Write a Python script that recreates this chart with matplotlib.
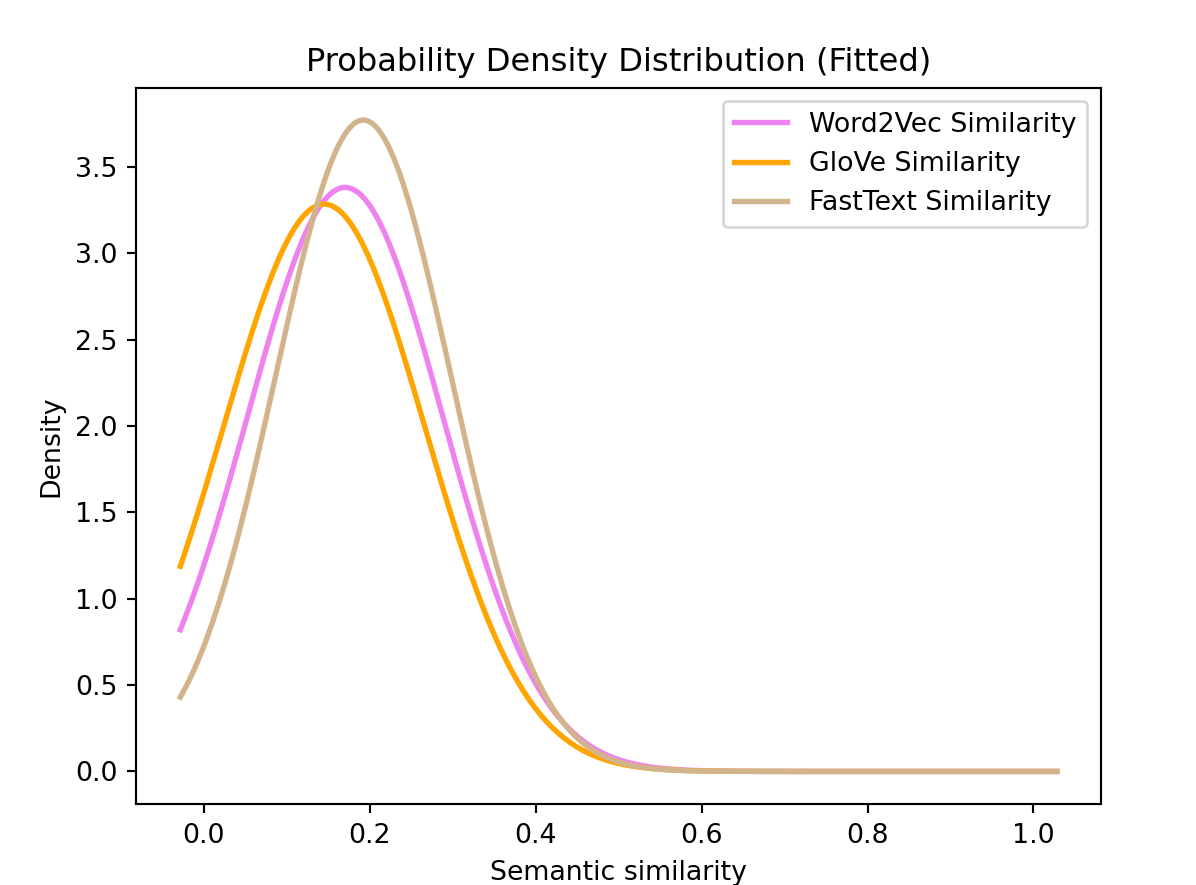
import numpy as np
import matplotlib
matplotlib.use('Agg')
import matplotlib.pyplot as plt

# fitted normal parameters
labels = ['Word2Vec Similarity', 'GloVe Similarity', 'FastText Similarity']
means = [0.1706, 0.1453, 0.1925]
stds = [0.1180, 0.1215, 0.1058]
colors = ['violet', 'orange', 'tan']
x_min, x_max = -0.028, 1.028

DPI = 193
fig = plt.figure(figsize=(1196 / DPI, 885 / DPI), dpi=DPI)
ax = fig.add_axes([0.1141, 0.0915, 0.9202 - 0.1141, 0.9011 - 0.0915])

x = np.linspace(x_min, x_max, 300)
for m, s, c, lab in zip(means, stds, colors, labels):
    pdf = np.exp(-0.5 * ((x - m) / s) ** 2) / (s * np.sqrt(2 * np.pi))
    ax.plot(x, pdf, color=c, lw=2, label=lab)

ax.set_title('Probability Density Distribution (Fitted)')
ax.set_xlabel('Semantic similarity')
ax.set_ylabel('Density')
ax.legend(loc='upper right')

fig.savefig('out.png', dpi=DPI)
